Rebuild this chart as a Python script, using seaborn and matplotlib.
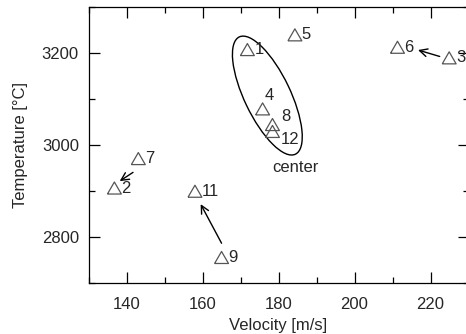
import numpy as np
import pandas as pd
import matplotlib
matplotlib.use("Agg")
import matplotlib.pyplot as plt
import matplotlib.transforms as mtransforms
from matplotlib.patches import Ellipse
from matplotlib.ticker import MultipleLocator
import seaborn as sns

# point data
labels = ["1", "2", "3", "4", "5", "6", "7", "8", "9", "11", "12"]
velocity = [171.8, 136.8, 224.9, 175.8, 184.3, 211.3, 143.1, 178.4, 165.0, 158.0, 178.4]
temperature = [3208, 2907, 3190, 3079, 3240, 3213, 2971, 3045, 2756, 2900, 3030]

# arrows: (tail x, tail y) -> (head x, head y)
arrow_tails = [(222.4, 3193), (141.7, 2941), (165.0, 2787)]
arrow_heads = [(216.7, 3207), (138.2, 2922), (159.5, 2872)]

# "center" group
center_xy = (177.05, 3108)
center_text_xy = (184.5, 2952)

df = pd.DataFrame({"Velocity": velocity, "Temperature": temperature, "label": labels})

sns.set_style("ticks")
plt.rcParams["font.family"] = ["Liberation Sans", "DejaVu Sans"]
plt.rcParams["font.size"] = 12

fig = plt.figure(figsize=(4.66, 3.34), dpi=100)
ax = fig.add_axes([0.19, 0.152, 0.8155, 0.8263])

# equilateral open triangle
tri = [(-0.5, -0.433), (0.5, -0.433), (0.0, 0.433), (-0.5, -0.433)]
sns.scatterplot(data=df, x="Velocity", y="Temperature", marker=tri, s=100,
                facecolor="none", edgecolor="#555555", linewidth=0.9, ax=ax, zorder=3)

# label offsets in points (ha, dx, dy)
offsets = {"4": ("center", 4.5, 10), "8": ("center", 9.6, 6), "12": ("left", 6, -6)}
for _, r in df.iterrows():
    ha, dx, dy = offsets.get(r["label"], ("left", 5, 0))
    ax.annotate(r["label"], (r["Velocity"], r["Temperature"]), xytext=(dx, dy),
                textcoords="offset points", ha=ha, va="center", fontsize=12,
                annotation_clip=False)

for t, h in zip(arrow_tails, arrow_heads):
    ax.annotate("", xy=h, xytext=t,
                arrowprops=dict(arrowstyle="->", color="black", lw=1.0,
                                shrinkA=0, shrinkB=0, mutation_scale=14))

# ellipse around the center group, sized in inches
trans = fig.dpi_scale_trans + mtransforms.ScaledTranslation(center_xy[0], center_xy[1], ax.transData)
ax.add_patch(Ellipse((0, 0), width=1.30, height=0.46, angle=115.6, transform=trans,
                     fill=False, edgecolor="black", lw=1.0))
ax.text(center_text_xy[0], center_text_xy[1], "center", ha="center", va="center", fontsize=12)

ax.set_xlim(130, 230)
ax.set_ylim(2700, 3300)
ax.xaxis.set_major_locator(MultipleLocator(20))
ax.xaxis.set_minor_locator(MultipleLocator(10))
ax.yaxis.set_major_locator(MultipleLocator(200))
ax.yaxis.set_minor_locator(MultipleLocator(100))
ax.tick_params(which="both", direction="in", top=True, right=True, width=0.9, color="black")
ax.tick_params(which="major", length=8, pad=7, labelsize=12)
ax.tick_params(axis="x", which="major", pad=10)
ax.tick_params(which="minor", length=4)
for sp in ax.spines.values():
    sp.set_linewidth(0.9)
    sp.set_color("black")

ax.set_xlabel("Velocity [m/s]", fontsize=12, labelpad=4)
ax.set_ylabel("Temperature [°C]", fontsize=12, labelpad=10)

fig.savefig("out.png", dpi=100)
